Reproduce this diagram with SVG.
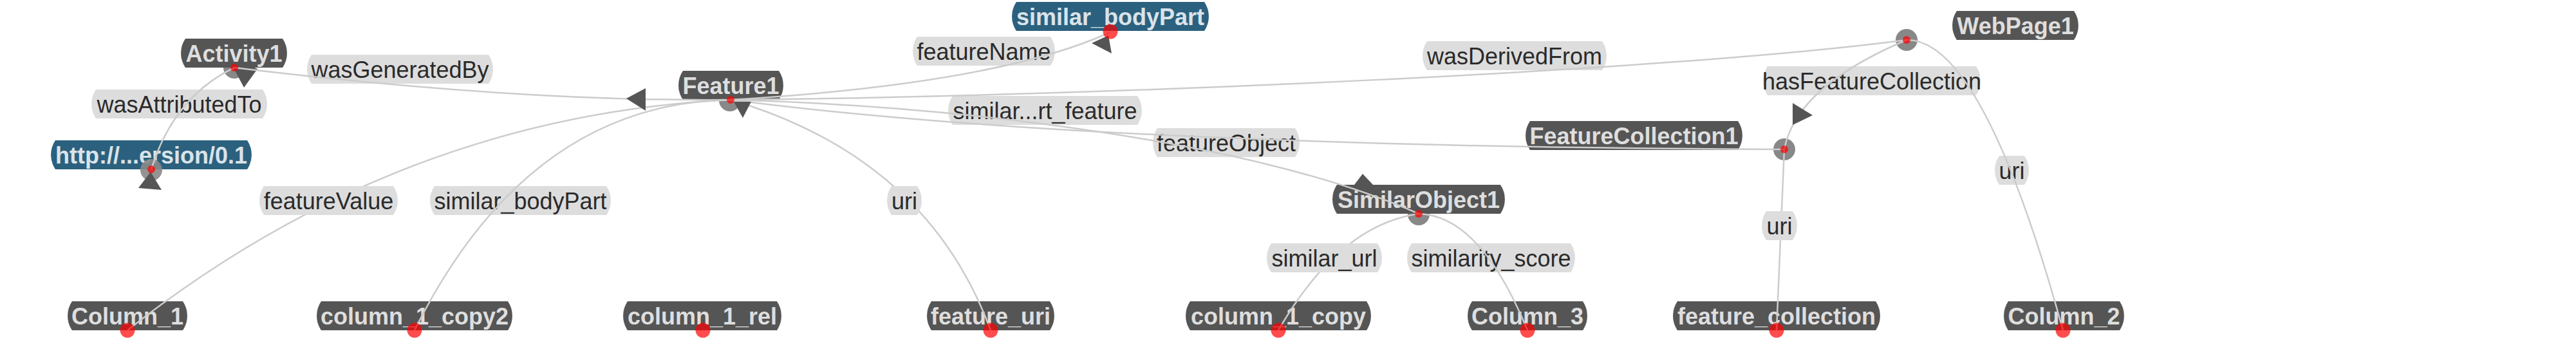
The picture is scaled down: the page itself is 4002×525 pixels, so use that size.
<svg xmlns="http://www.w3.org/2000/svg" width="4002" height="525" viewBox="0 0 4002 525">
<style>
.node path{fill:#555}
.node text{fill:#dedede;font:bold 36px "Liberation Sans",Arial,sans-serif;text-anchor:middle}
.lit path{fill:#2b617e}
.lit text{fill:#dae3ea}
.lbl path{fill:#ddd}
.lbl text{fill:#2a2a2a;font:36px "Liberation Sans",Arial,sans-serif;text-anchor:middle}
.link{fill:none;stroke:#ccc;stroke-width:2.5}
.arrow{fill:#555}
.anchor{fill:#888}
.dot{fill:#ff0000;fill-opacity:0.7}
</style>
<rect width="4002" height="525" fill="#fff"/>

<g id="anchors-back">
<circle class="anchor" cx="364" cy="105" r="17"/>
<circle class="anchor" cx="1134" cy="156" r="17"/>
<circle class="anchor" cx="2204" cy="333" r="17"/>
<circle class="anchor" cx="2772" cy="232" r="17"/>
<circle class="anchor" cx="2962" cy="62" r="17"/>
<polygon class="arrow" points="353,87 400,107 379,136"/>
<polygon class="arrow" points="2117,270 2104,287 2133,287"/>
</g>

<g id="node-Activity1" class="node"><path d="M288 60H439A40 40 0 0 1 439 105H288A40 40 0 0 1 288 60Z"/><text x="363.5" y="96">Activity1</text></g>
<g id="node-http" class="node lit"><path d="M86 218H384A40 40 0 0 1 384 263H86A40 40 0 0 1 86 218Z"/><text x="235" y="254">http://...ersion/0.1</text></g>
<g id="node-Feature1" class="node"><path d="M1061 110H1210A40 40 0 0 1 1210 155H1061A40 40 0 0 1 1061 110Z"/><text x="1135.5" y="146">Feature1</text></g>
<g id="node-similar_bodyPart" class="node lit"><path d="M1579 3H1871A40 40 0 0 1 1871 48H1579A40 40 0 0 1 1579 3Z"/><text x="1725" y="39">similar_bodyPart</text></g>
<g id="node-SimilarObject1" class="node"><path d="M2077 287H2331A40 40 0 0 1 2331 332H2077A40 40 0 0 1 2077 287Z"/><text x="2204" y="323">SimilarObject1</text></g>
<g id="node-FeatureCollection1" class="node"><path d="M2377 188H2700A40 40 0 0 1 2700 233H2377A40 40 0 0 1 2377 188Z"/><text x="2538.5" y="224">FeatureCollection1</text></g>
<g id="node-WebPage1" class="node"><path d="M3040 17H3222A40 40 0 0 1 3222 62H3040A40 40 0 0 1 3040 17Z"/><text x="3131" y="53">WebPage1</text></g>
<g id="node-Column_1" class="node"><path d="M112 468H284A40 40 0 0 1 284 513H112A40 40 0 0 1 112 468Z"/><text x="198" y="504">Column_1</text></g>
<g id="node-column_1_copy2" class="node"><path d="M499 468H789A40 40 0 0 1 789 513H499A40 40 0 0 1 499 468Z"/><text x="644" y="504">column_1_copy2</text></g>
<g id="node-column_1_rel" class="node"><path d="M975 468H1207A40 40 0 0 1 1207 513H975A40 40 0 0 1 975 468Z"/><text x="1091" y="504">column_1_rel</text></g>
<g id="node-feature_uri" class="node"><path d="M1447 468H1631A40 40 0 0 1 1631 513H1447A40 40 0 0 1 1447 468Z"/><text x="1539" y="504">feature_uri</text></g>
<g id="node-column_1_copy" class="node"><path d="M1849 468H2123A40 40 0 0 1 2123 513H1849A40 40 0 0 1 1849 468Z"/><text x="1986" y="504">column_1_copy</text></g>
<g id="node-Column_3" class="node"><path d="M2287 468H2459A40 40 0 0 1 2459 513H2287A40 40 0 0 1 2287 468Z"/><text x="2373" y="504">Column_3</text></g>
<g id="node-feature_collection" class="node"><path d="M2606 468H2914A40 40 0 0 1 2914 513H2606A40 40 0 0 1 2606 468Z"/><text x="2760" y="504">feature_collection</text></g>
<g id="node-Column_2" class="node"><path d="M3120 468H3293A40 40 0 0 1 3293 513H3120A40 40 0 0 1 3120 468Z"/><text x="3206.5" y="504">Column_2</text></g>

<g id="anchors-front">
<circle class="anchor" cx="235" cy="264" r="17" fill-opacity="0.9"/>
</g>

<g id="edge-labels-under" class="lbl">
<g><path d="M484 85H759A40 40 0 0 1 759 130H484A40 40 0 0 1 484 85Z"/><text x="621.5" y="121">wasGeneratedBy</text></g>
<g><path d="M149 139H408A40 40 0 0 1 408 184H149A40 40 0 0 1 149 139Z"/><text x="278.5" y="175">wasAttributedTo</text></g>
<g><path d="M675 289H942A40 40 0 0 1 942 334H675A40 40 0 0 1 675 289Z"/><text x="808.5" y="325">similar_bodyPart</text></g>
<g><path d="M1425 57H1632A40 40 0 0 1 1632 102H1425A40 40 0 0 1 1425 57Z"/><text x="1528.5" y="93">featureName</text></g>
<g><path d="M1480 149H1767A40 40 0 0 1 1767 194H1480A40 40 0 0 1 1480 149Z"/><text x="1623.5" y="185">similar...rt_feature</text></g>
<g><path d="M1798 199H2012A40 40 0 0 1 2012 244H1798A40 40 0 0 1 1798 199Z"/><text x="1905" y="235">featureObject</text></g>
<g><path d="M2217 64H2489A40 40 0 0 1 2489 109H2217A40 40 0 0 1 2217 64Z"/><text x="2353" y="100">wasDerivedFrom</text></g>
<g><path d="M2746 103H3070A40 40 0 0 1 3070 148H2746A40 40 0 0 1 2746 103Z"/><text x="2908" y="139">hasFeatureCollection</text></g>
<g><path d="M3106 242H3145A40 40 0 0 1 3145 287H3106A40 40 0 0 1 3106 242Z"/><text x="3125.5" y="278">uri</text></g>
<g><path d="M2193 378H2440A40 40 0 0 1 2440 423H2193A40 40 0 0 1 2193 378Z"/><text x="2316.5" y="414">similarity_score</text></g>
</g>

<g id="connectors">
<path class="link" d="M1135 155Q800 158 364 105"/>
<path class="link" d="M364 105Q270 150 235 263"/>
<path class="link" d="M1135 155Q1550 130 1725 50"/>
<path class="link" d="M1135 155C1700 150 2600 110 2962 62"/>
<path class="link" d="M1135 155C1500 165 1950 220 2204 332"/>
<path class="link" d="M1135 155Q1700 228 2772 232"/>
<path class="link" d="M2962 62Q2790 135 2772 232"/>
<path class="link" d="M2962 62Q3080 60 3205 513"/>
<path class="link" d="M2772 232Q2767 350 2760 513"/>
<path class="link" d="M2204 332Q2080 350 1986 513"/>
<path class="link" d="M2204 332Q2300 335 2373 513"/>
<path class="link" d="M1135 155Q1440 245 1539 513"/>
<path class="link" d="M1135 155Q820 160 644 513"/>
<path class="link" d="M1135 155Q620 180 198 513"/>
</g>

<g id="edge-labels-over" class="lbl">
<g><path d="M410 289H611A40 40 0 0 1 611 334H410A40 40 0 0 1 410 289Z"/><text x="510.5" y="325">featureValue</text></g>
<g><path d="M1385 289H1425A40 40 0 0 1 1425 334H1385A40 40 0 0 1 1385 289Z"/><text x="1405" y="325">uri</text></g>
<g><path d="M1975 378H2140A40 40 0 0 1 2140 423H1975A40 40 0 0 1 1975 378Z"/><text x="2057.5" y="414">similar_url</text></g>
<g><path d="M2744 328H2785A40 40 0 0 1 2785 373H2744A40 40 0 0 1 2744 328Z"/><text x="2764.5" y="364">uri</text></g>
</g>

<g id="arrowheads">
<polygon class="arrow" points="234,267 215,292 251,295"/>
<polygon class="arrow" points="973,153 1003,137 1003,172"/>
<polygon class="arrow" points="1140,158 1167,158 1154,183"/>
<polygon class="arrow" points="1696,67 1722,55 1727,83"/>
<polygon class="arrow" points="2785,160 2816,179 2785,194"/>
</g>

<g id="ports">
<circle class="dot" cx="364" cy="105" r="6"/>
<circle class="dot" cx="235" cy="263" r="6"/>
<circle class="dot" cx="1135" cy="155" r="6"/>
<circle class="dot" cx="2204" cy="332" r="6"/>
<circle class="dot" cx="2772" cy="232" r="6"/>
<circle class="dot" cx="2962" cy="62" r="6"/>
<circle class="dot" cx="1725" cy="49" r="11.5"/>
<circle class="dot" cx="198" cy="513" r="11.5"/>
<circle class="dot" cx="644" cy="513" r="11.5"/>
<circle class="dot" cx="1092" cy="513" r="11.5"/>
<circle class="dot" cx="1539" cy="513" r="11.5"/>
<circle class="dot" cx="1986" cy="513" r="11.5"/>
<circle class="dot" cx="2373" cy="513" r="11.5"/>
<circle class="dot" cx="2760" cy="513" r="11.5"/>
<circle class="dot" cx="3205" cy="513" r="11.5"/>
</g>
</svg>
